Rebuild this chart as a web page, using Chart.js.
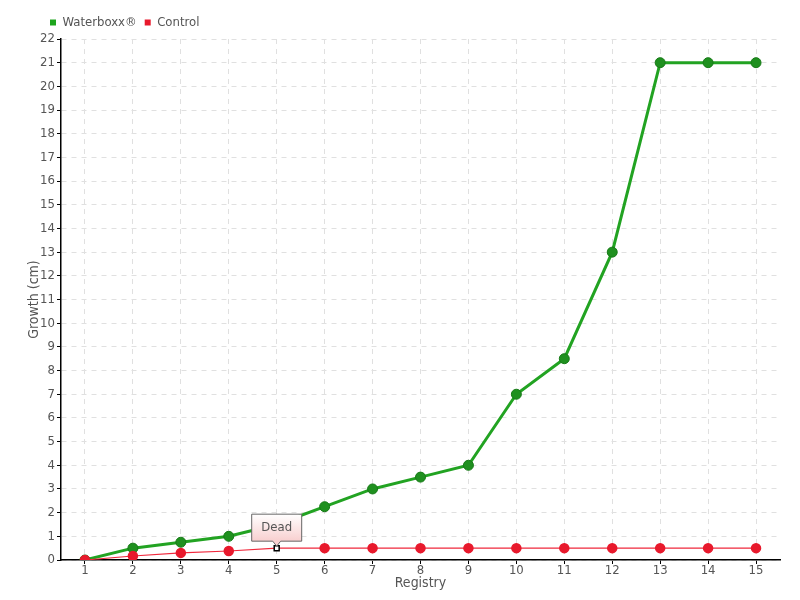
<!DOCTYPE html>
<html>
<head>
<meta charset="utf-8">
<script src="https://cdn.jsdelivr.net/npm/chart.js@4"></script>
<style>
  html, body { margin: 0; padding: 0; background: #fff; }
  #wrap { width: 800px; height: 600px; position: relative; }
</style>
</head>
<body>
<div id="wrap"><canvas id="growth-chart"></canvas></div>
<script>
const registry = ["1","2","3","4","5","6","7","8","9","10","11","12","13","14","15"];
const waterboxx = [0, 0.5, 0.75, 1, 1.5, 2.25, 3, 3.5, 4, 7, 8.5, 13, 21, 21, 21];
const control = [0, 0.17, 0.3, 0.38, 0.5, 0.5, 0.5, 0.5, 0.5, 0.5, 0.5, 0.5, 0.5, 0.5, 0.5];
// note shown above the control point where the plant died
const deadIndex = 4;
const deadLabel = "Dead";

const fontFam = "'DejaVu Sans Condensed', 'DejaVu Sans', sans-serif";
const textCol = "#555";

// hide the green point under the callout, mark the dead control point
const greenRadius = waterboxx.map((v, i) => i === deadIndex ? 0 : 5);
const redStyle = control.map((v, i) => i === deadIndex ? "rect" : "circle");
const redFill = control.map((v, i) => i === deadIndex ? "#fff" : "#e8192c");
const redBorder = control.map((v, i) => i === deadIndex ? "#000" : "#e8192c");
const redRadius = control.map((v, i) => i === deadIndex ? 3.5 : 4.5);

const calloutPlugin = {
  id: "callout",
  afterLayout(chart) {
    // push the legend in line with the plot like the original
    chart.legend.left += 42;
    chart.legend.right += 42;
  },
  afterDatasetsDraw(chart) {
    const ctx = chart.ctx;
    const x = chart.scales.x.getPixelForValue(deadIndex);
    const y = chart.scales.y.getPixelForValue(control[deadIndex]);
    const w = 50, h = 27, tip = 6;
    const left = x - w / 2, bottom = y - 7, top = bottom - h;
    ctx.save();
    const grad = ctx.createLinearGradient(0, top, 0, bottom);
    grad.addColorStop(0, "#ffffff");
    grad.addColorStop(1, "#f8cfcf");
    ctx.beginPath();
    ctx.moveTo(left, top);
    ctx.lineTo(left + w, top);
    ctx.lineTo(left + w, bottom);
    ctx.lineTo(x + 4, bottom);
    ctx.lineTo(x, bottom + tip - 1);
    ctx.lineTo(x - 4, bottom);
    ctx.lineTo(left, bottom);
    ctx.closePath();
    ctx.fillStyle = grad;
    ctx.fill();
    ctx.strokeStyle = "#666";
    ctx.lineWidth = 1;
    ctx.stroke();
    ctx.fillStyle = textCol;
    ctx.font = "13px " + fontFam;
    ctx.textAlign = "center";
    ctx.textBaseline = "middle";
    ctx.fillText(deadLabel, x, top + h / 2);
    ctx.restore();
  }
};

new Chart("growth-chart", {
  type: "line",
  data: {
    labels: registry,
    datasets: [
      {
        label: "Waterboxx®",
        data: waterboxx,
        borderColor: "#22a322",
        backgroundColor: "#1ea51e",
        borderWidth: 3,
        pointRadius: greenRadius,
        pointBackgroundColor: "#1f901f",
        pointBorderColor: "#177a17",
        pointBorderWidth: 1,
        tension: 0,
        order: 2
      },
      {
        label: "Control",
        data: control,
        borderColor: "#f0283c",
        backgroundColor: "#e8192c",
        borderWidth: 1.2,
        pointStyle: redStyle,
        pointRadius: redRadius,
        pointBackgroundColor: redFill,
        pointBorderColor: redBorder,
        pointBorderWidth: 1.5,
        tension: 0,
        order: 1
      }
    ]
  },
  plugins: [calloutPlugin],
  options: {
    responsive: true,
    maintainAspectRatio: false,
    animation: false,
    layout: { padding: { right: 20, top: 8 } },
    plugins: {
      legend: {
        align: "start",
        labels: {
          boxWidth: 6,
          boxHeight: 6,
          padding: 8,
          color: textCol,
          font: { family: fontFam, size: 13 },
          generateLabels(chart) {
            return chart.data.datasets.map((ds, i) => ({
              text: ds.label,
              fillStyle: ds.backgroundColor,
              strokeStyle: ds.backgroundColor,
              lineWidth: 0,
              datasetIndex: i,
              fontColor: textCol
            }));
          }
        }
      },
      tooltip: { enabled: false }
    },
    scales: {
      x: {
        offset: true,
        grid: { offset: false, color: "#e0e0e0", tickColor: "#000", tickLength: 4 },
        border: { color: "#000", width: 1.5, dash: [5, 5] },
        ticks: { color: textCol, padding: -1, font: { family: fontFam, size: 13 }, maxRotation: 0 },
        title: { display: true, text: "Registry", color: textCol, padding: { top: 0, bottom: 8 }, font: { family: fontFam, size: 14 } },
        afterFit(scale) { scale.height = 40; }
      },
      y: {
        min: 0,
        max: 22,
        grid: { color: "#e0e0e0", tickColor: "#000", tickLength: 4 },
        border: { color: "#000", width: 1.5, dash: [5, 5] },
        ticks: { stepSize: 1, color: textCol, padding: 2, font: { family: fontFam, size: 13 } },
        title: { display: true, text: "Growth (cm)", color: textCol, padding: { top: 26, bottom: 0 }, font: { family: fontFam, size: 14 } },
        afterFit(scale) { scale.width = 61; }
      }
    }
  }
});
</script>
</body>
</html>
